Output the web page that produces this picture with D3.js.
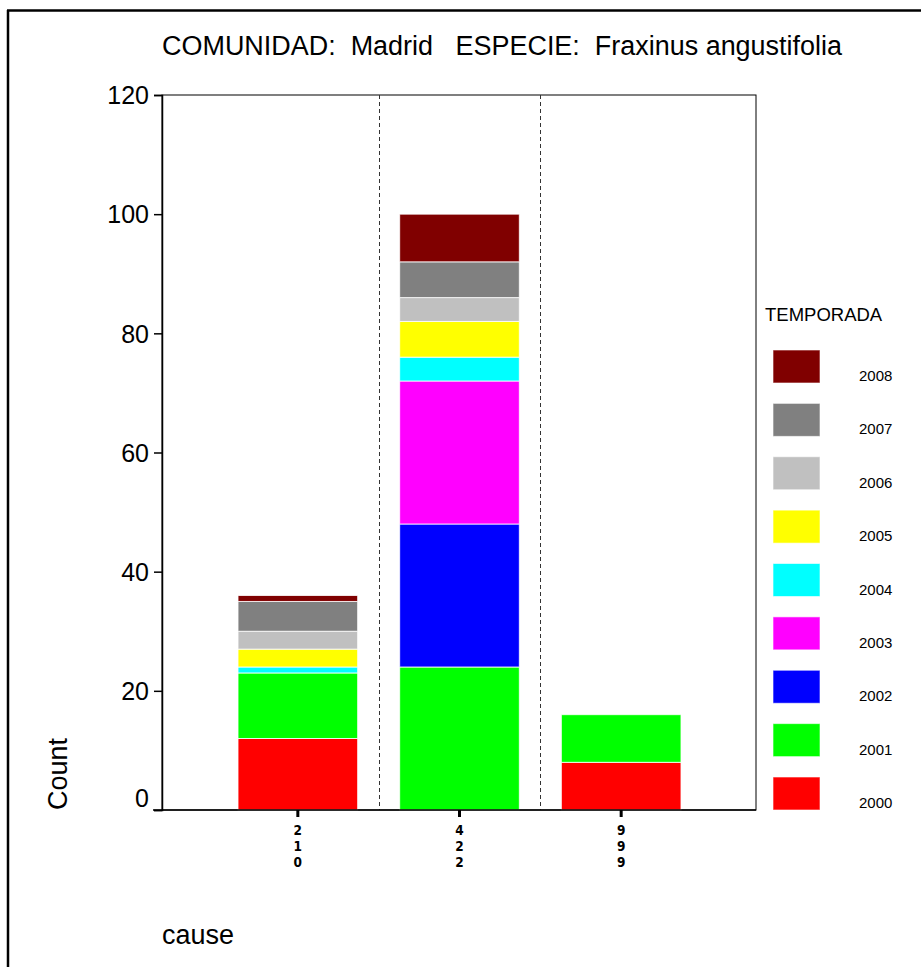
<!DOCTYPE html>
<html>
<head>
<meta charset="utf-8">
<script src="https://cdn.jsdelivr.net/npm/d3@7"></script>
<style>
  body { margin: 0; background: #fff; }
  text { font-family: "Liberation Sans", Arial, sans-serif; fill: #000; }
</style>
</head>
<body>
<div id="chart"></div>
<script>
// categories (cause codes) and seasons
var causes = ["210", "422", "999"];
var seasons = ["2000", "2001", "2002", "2003", "2004", "2005", "2006", "2007", "2008"];
var seasonColors = ["#ff0000", "#00ff00", "#0000ff", "#ff00ff", "#00ffff", "#ffff00", "#c0c0c0", "#808080", "#800000"];

// counts per season, one value per cause
var c2000 = [12, 0, 8];
var c2001 = [11, 24, 8];
var c2002 = [0, 24, 0];
var c2003 = [0, 24, 0];
var c2004 = [1, 4, 0];
var c2005 = [3, 6, 0];
var c2006 = [3, 4, 0];
var c2007 = [5, 6, 0];
var c2008 = [1, 8, 0];
var yTicks = [0, 20, 40, 60, 80, 100, 120];

var seriesVals = [c2000, c2001, c2002, c2003, c2004, c2005, c2006, c2007, c2008];

// table for d3.stack
var table = causes.map(function(c, i) {
  var row = {cause: c};
  seasons.forEach(function(s, j) { row[s] = seriesVals[j][i]; });
  return row;
});

var W = 921, H = 967;
var plot = {left: 162, right: 756, top: 95, bottom: 810};

var svg = d3.select("#chart").append("svg")
  .attr("width", W)
  .attr("height", H);

// outer frame (top and left edges only visible)
svg.append("line").attr("x1", 7).attr("x2", W).attr("y1", 10.5).attr("y2", 10.5)
  .attr("stroke", "#000").attr("stroke-width", 2.5);
svg.append("line").attr("x1", 8).attr("x2", 8).attr("y1", 10).attr("y2", H)
  .attr("stroke", "#000").attr("stroke-width", 2.5);

// title
svg.append("text")
  .attr("x", 162).attr("y", 55)
  .attr("textLength", 680)
  .attr("lengthAdjust", "spacingAndGlyphs")
  .style("font-size", "27px")
  .style("white-space", "pre")
  .text("COMUNIDAD:  Madrid   ESPECIE:  Fraxinus angustifolia");

var x = d3.scaleBand()
  .domain(causes)
  .range([217, 702])
  .paddingInner(0.26)
  .paddingOuter(0.13);

var y = d3.scaleLinear()
  .domain([0, 120])
  .range([plot.bottom, plot.top]);

// plot box
svg.append("rect")
  .attr("x", plot.left).attr("y", plot.top)
  .attr("width", plot.right - plot.left).attr("height", plot.bottom - plot.top)
  .attr("fill", "none").attr("stroke", "#000").attr("stroke-width", 1);

// dashed separators between categories
var seps = causes.slice(1).map(function(c) { return x(c) - x.step() * x.paddingInner() / 2; });
svg.selectAll(".sep").data(seps).enter().append("line")
  .attr("class", "sep")
  .attr("x1", function(d) { return Math.round(d) + 0.5; })
  .attr("x2", function(d) { return Math.round(d) + 0.5; })
  .attr("y1", plot.top).attr("y2", plot.bottom)
  .attr("stroke", "#333").attr("stroke-width", 1)
  .attr("stroke-dasharray", "4,3");

// stacked bars
var stack = d3.stack().keys(seasons);
var layers = stack(table);

svg.selectAll(".layer").data(layers).enter().append("g")
  .attr("class", "layer")
  .attr("fill", function(d, i) { return seasonColors[i]; })
  .selectAll("rect")
  .data(function(d) { return d.filter(function(p) { return p[1] > p[0]; }); })
  .enter().append("rect")
    .attr("x", function(d) { return x(d.data.cause); })
    .attr("y", function(d) { return y(d[1]); })
    .attr("width", x.bandwidth())
    .attr("height", function(d) { return y(d[0]) - y(d[1]); })
    .attr("stroke", "#fff")
    .attr("stroke-opacity", 0.8)
    .attr("stroke-width", 1);

// y axis
var yAxis = svg.append("g")
  .attr("transform", "translate(" + plot.left + ",0)")
  .call(d3.axisLeft(y).tickValues(yTicks).tickSize(8).tickPadding(5));
yAxis.select(".domain").attr("stroke-width", 1.5);
yAxis.selectAll(".tick line").attr("stroke-width", 1.5);
yAxis.selectAll(".tick text")
  .style("font-size", "25px")
  .style("font-family", "Liberation Sans, Arial, sans-serif")
  .attr("dy", function(d) { return d === 0 ? "-0.15em" : "0.35em"; });

// x axis baseline and ticks
var xAxis = svg.append("g")
  .attr("transform", "translate(0," + plot.bottom + ")")
  .call(d3.axisBottom(x).tickSize(7).tickFormat(""));
xAxis.select(".domain").remove();
xAxis.selectAll(".tick line").attr("stroke-width", 3);
svg.append("line")
  .attr("x1", plot.left - 9).attr("x2", plot.right)
  .attr("y1", plot.bottom).attr("y2", plot.bottom)
  .attr("stroke", "#000").attr("stroke-width", 1.5);

// vertical stacked tick labels, one digit per line
xAxis.selectAll(".tick").each(function(d) {
  var g = d3.select(this);
  d.split("").forEach(function(ch, k) {
    g.append("text")
      .attr("text-anchor", "middle")
      .attr("x", 0).attr("y", 25 + k * 16)
      .style("font-size", "13.5px")
      .style("font-weight", "bold")
      .style("font-family", "'DejaVu Sans Condensed', 'DejaVu Sans', sans-serif")
      .attr("fill", "#000")
      .text(ch);
  });
});

// axis titles
svg.append("text")
  .attr("transform", "translate(67,774) rotate(-90)")
  .attr("text-anchor", "middle")
  .style("font-size", "27px")
  .text("Count");

svg.append("text")
  .attr("x", 162).attr("y", 944)
  .style("font-size", "27px")
  .text("cause");

// legend
var legend = svg.append("g");
legend.append("text")
  .attr("x", 765).attr("y", 321)
  .style("font-size", "18.5px")
  .text("TEMPORADA");

var legendOrder = seasons.slice().reverse();
var ly = d3.scalePoint().domain(legendOrder).range([350, 777]);

var items = legend.selectAll(".item").data(legendOrder).enter().append("g")
  .attr("class", "item")
  .attr("transform", function(d) { return "translate(773," + ly(d) + ")"; });
items.append("rect")
  .attr("width", 47).attr("height", 33)
  .attr("fill", function(d) { return seasonColors[seasons.indexOf(d)]; })
  .attr("stroke", "#fff").attr("stroke-opacity", 0.6);
items.append("text")
  .attr("x", 86).attr("y", 31)
  .style("font-size", "15px")
  .text(function(d) { return d; });
</script>
</body>
</html>
